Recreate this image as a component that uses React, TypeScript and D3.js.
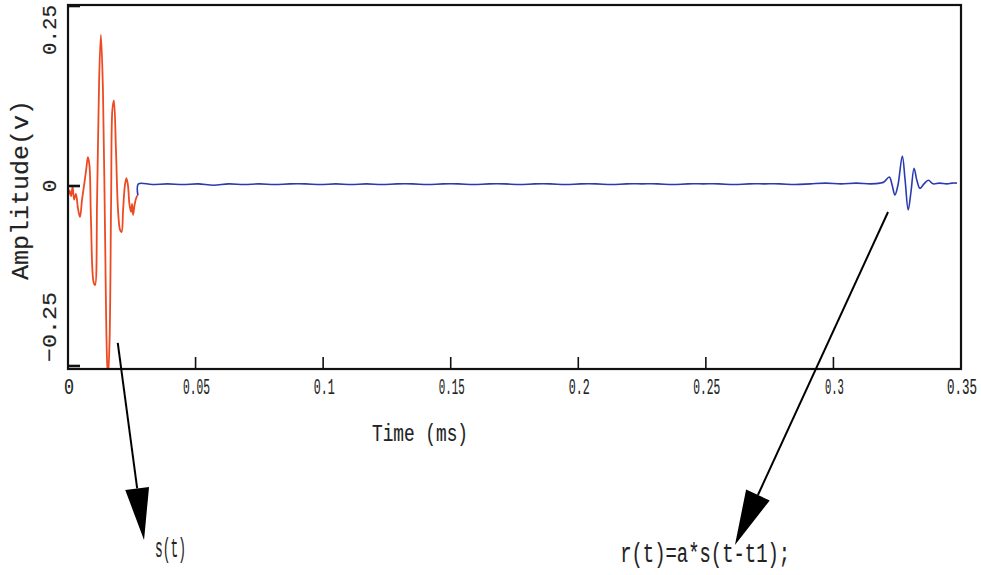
import React from "react";
import * as d3 from "d3";

// ---------- data (time in ms, amplitude in V) ----------
const xTicks = [0, 0.05, 0.1, 0.15, 0.2, 0.25, 0.3, 0.35];
const xTickLabels = ["0", "0.05", "0.1", "0.15", "0.2", "0.25", "0.3", "0.35"];
const yTicks = [0.25, 0, -0.25];
const yTickLabels = ["0.25", "0", "\u22120.25"];

// transmitted pulse s(t)
const sTime = [
  0, 0.0006, 0.0012, 0.0018, 0.0024, 0.0031, 0.0039, 0.0047, 0.0055, 0.0063,
  0.0071, 0.0078, 0.0084, 0.009, 0.01, 0.0106, 0.0114, 0.0122, 0.0129, 0.0137,
  0.0145, 0.0153, 0.0157, 0.0163, 0.0169, 0.0174, 0.018, 0.0188, 0.0196, 0.0204,
  0.021, 0.0216, 0.0223, 0.0229, 0.0235, 0.0241, 0.0247, 0.0251, 0.0255, 0.0261,
  0.0267, 0.0272,
];
const sAmp = [
  -0.015, -0.006, -0.014, -0.001, -0.019, -0.011, -0.031, -0.043, -0.019, 0.001,
  0.022, 0.04, 0.029, -0.047, -0.133, -0.1375, -0.019, 0.147, 0.21, 0.133,
  -0.061, -0.242, -0.265, -0.214, -0.019, 0.106, 0.119, 0.05, -0.033, -0.061,
  -0.064, -0.033, 0.001, 0.011, 0.001, -0.026, -0.036, -0.025, -0.04, -0.026,
  -0.017, -0.013,
];

// received signal r(t): flat noisy baseline then attenuated echo
const rTime = [
  0.0274, 0.0276, 0.033, 0.039, 0.045, 0.051, 0.057, 0.063, 0.069, 0.075,
  0.081, 0.087, 0.093, 0.099, 0.105, 0.111, 0.117, 0.123, 0.129, 0.135,
  0.141, 0.147, 0.153, 0.159, 0.165, 0.171, 0.177, 0.183, 0.189, 0.195,
  0.201, 0.207, 0.213, 0.219, 0.225, 0.231, 0.237, 0.243, 0.249, 0.255,
  0.261, 0.267, 0.273, 0.279, 0.285, 0.291, 0.297, 0.303, 0.309, 0.3145,
  0.3183, 0.3198, 0.3219, 0.323, 0.3241, 0.3253, 0.327, 0.3281, 0.3293, 0.3304,
  0.3316, 0.3327, 0.3339, 0.3355, 0.3372, 0.3391, 0.3415, 0.3445, 0.3465, 0.3484,
];
const rAmp = [
  -0.013, 0.003, 0.002, 0.003, 0.002, 0.003, 0.001, 0.003, 0.002, 0.003,
  0.002, 0.003, 0.003, 0.002, 0.003, 0.002, 0.003, 0.002, 0.003, 0.003,
  0.002, 0.003, 0.003, 0.002, 0.003, 0.003, 0.002, 0.003, 0.003, 0.002,
  0.003, 0.003, 0.002, 0.003, 0.003, 0.003, 0.002, 0.003, 0.003, 0.003,
  0.002, 0.003, 0.003, 0.003, 0.002, 0.003, 0.004, 0.003, 0.004, 0.003,
  0.004, 0.0056, 0.0125, 0.0014, -0.0125, 0.0014, 0.0417, 0.008, -0.0333, -0.008,
  0.0246, 0.008, -0.0032, 0.003, 0.008, 0.003, 0.004, 0.003, 0.004, 0.004,
];

// annotation arrows (data units)
const sArrow = { from: [0.0195, -0.218], to: [0.0298, -0.4917] };
const rArrow = { from: [0.3214, -0.0361], to: [0.2614, -0.4986] };
const sLabel = { text: "s(t)", t: 0.0341, v: -0.515 };
const rLabel = { text: "r(t)=a*s(t-t1);", t: 0.2164, v: -0.522 };

// ---------- layout ----------
const W = 981;
const H = 575;
const frame = { left: 68, right: 961, top: 5, bottom: 369 };
const FONT = "'Liberation Mono', 'DejaVu Sans Mono', monospace";

// Condensed text: horizontal scale so that the text is `width` px long, keeping glyph height.
function CText(props: {
  x: number;
  y: number;
  text: string;
  size: number;
  width?: number;
  anchor?: "start" | "middle" | "end";
  rotate?: number;
}) {
  const { x, y, text, size, width, anchor = "start", rotate = 0 } = props;
  const natural = 0.6 * size * text.length;
  const sx = width ? width / natural : 1;
  return (
    <text
      transform={`translate(${x},${y}) rotate(${rotate}) scale(${sx},1)`}
      textAnchor={anchor}
      fontFamily={FONT}
      fontSize={size}
      fill="#222"
      stroke="#222"
      strokeWidth={0.15}
    >
      {text}
    </text>
  );
}

export default function App() {
  const x = d3.scaleLinear().domain([0, 0.35]).range([frame.left, frame.right]);
  const y = d3.scaleLinear().domain([-0.25, 0.25]).range([366, 6]);

  const line = d3
    .line<[number, number]>()
    .x((d) => x(d[0]))
    .y((d) => y(d[1]))
    .curve(d3.curveCatmullRom.alpha(0.5));

  const sData: [number, number][] = sTime.map((t, i) => [t, sAmp[i]]);
  const rData: [number, number][] = rTime.map((t, i) => [t, rAmp[i]]);

  const arrow = (a: { from: number[]; to: number[] }, headLen: number, headW: number) => {
    const x1 = x(a.from[0]);
    const y1 = y(a.from[1]);
    const x2 = x(a.to[0]);
    const y2 = y(a.to[1]);
    const dx = x2 - x1;
    const dy = y2 - y1;
    const len = Math.hypot(dx, dy);
    const ux = dx / len;
    const uy = dy / len;
    const bx = x2 - ux * headLen;
    const by = y2 - uy * headLen;
    const px = -uy * (headW / 2);
    const py = ux * (headW / 2);
    return (
      <g>
        <line x1={x1} y1={y1} x2={bx} y2={by} stroke="#000" strokeWidth={2} />
        <polygon
          points={`${x2},${y2} ${bx + px},${by + py} ${bx - px},${by - py}`}
          fill="#000"
        />
      </g>
    );
  };

  const xLabelWidths: Record<string, number> = {
    "0": 10, "0.05": 27, "0.1": 21, "0.15": 26, "0.2": 21, "0.25": 27, "0.3": 19, "0.35": 30,
  };

  return (
    <div style={{ position: "fixed", left: 0, top: 0, width: W, height: H, background: "#fff" }}>
      <svg width={W} height={H} style={{ display: "block" }}>
        <defs>
          <clipPath id="plotClip">
            <rect x={frame.left} y={frame.top} width={frame.right - frame.left} height={frame.bottom - frame.top} />
          </clipPath>
        </defs>
        <rect width={W} height={H} fill="#fff" />

        {/* signals */}
        <g clipPath="url(#plotClip)">
          <path d={line(rData) || ""} fill="none" stroke="#2a3bb0" strokeWidth={1.6} />
          <path d={line(sData) || ""} fill="none" stroke="#ee4a22" strokeWidth={1.8} />
        </g>

        {/* frame */}
        <rect
          x={frame.left}
          y={frame.top}
          width={frame.right - frame.left}
          height={frame.bottom - frame.top}
          fill="none"
          stroke="#111"
          strokeWidth={2.2}
        />

        {/* x ticks */}
        {xTicks.map((t, i) => {
          const last = i === xTicks.length - 1;
          return (
            <g key={"xt" + i}>
              {i > 0 && !last && (
                <line x1={x(t)} x2={x(t)} y1={frame.bottom} y2={frame.bottom - 12} stroke="#111" strokeWidth={1.6} />
              )}
              <CText
                x={last ? 977 : x(t) + 1}
                y={394}
                text={xTickLabels[i]}
                size={22}
                width={xLabelWidths[xTickLabels[i]]}
                anchor={last ? "end" : "middle"}
              />
            </g>
          );
        })}

        {/* y ticks */}
        {yTicks.map((v, i) => (
          <line key={"yt" + i} x1={frame.left} x2={frame.left + 12} y1={y(v)} y2={y(v)} stroke="#111" strokeWidth={2.6} />
        ))}
        {/* y tick labels (rotated) */}
        <CText x={56} y={y(0.25) - 1} text={yTickLabels[0]} size={21} width={50} anchor="end" rotate={-90} />
        <CText x={56} y={y(0)} text={yTickLabels[1]} size={21} anchor="middle" rotate={-90} />
        <CText x={56} y={y(-0.25) - 4} text={yTickLabels[2]} size={21} width={70} anchor="start" rotate={-90} />

        {/* axis titles */}
        <CText x={28} y={y(0) + 4} text="Amplitude(v)" size={24} width={180} anchor="middle" rotate={-90} />
        <CText x={420} y={441} text="Time (ms)" size={23} width={96} anchor="middle" />

        {/* annotations */}
        {arrow(sArrow, 52, 24)}
        {arrow(rArrow, 55, 26)}
        <CText x={x(sLabel.t)} y={y(sLabel.v)} text={sLabel.text} size={27} width={31} />
        <CText x={x(rLabel.t)} y={y(rLabel.v)} text={rLabel.text} size={27} width={170} />
      </svg>
    </div>
  );
}
